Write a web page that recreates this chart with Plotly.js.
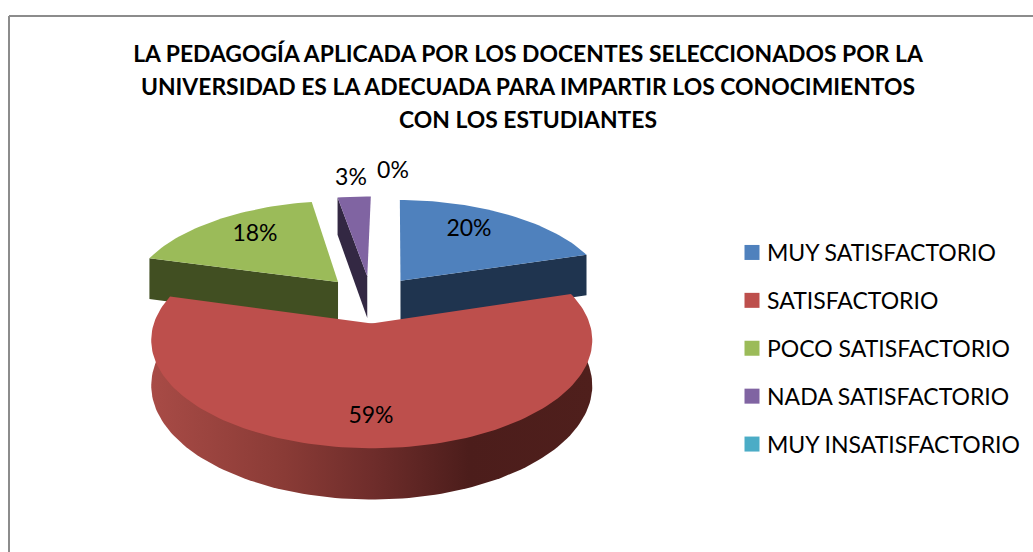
<!DOCTYPE html>
<html><head><meta charset="utf-8">
<script src="https://cdn.plot.ly/plotly-3.0.1.min.js"></script>
<style>html,body{margin:0;padding:0;background:#fff}#c{width:1033px;height:552px}</style>
</head><body><div id="c"></div>
<script>
// ---- data ----
const categories = ["MUY SATISFACTORIO","SATISFACTORIO","POCO SATISFACTORIO","NADA SATISFACTORIO","MUY INSATISFACTORIO"];
const values = [20, 59, 18, 3, 0];
const percentLabels = ["20%","59%","18%","3%","0%"];
// ---- styles ----
const topColors = ["#4f81bd","#bd4f4c","#9bbb59","#8064a2","#4bacc6"];
const sideColors = ["#1f344f","#7a3230","#414f22","#332843","#1f4a55"];
const font = "Lato, 'Open Sans', sans-serif";
// ---- projection of the tilted exploded disc ----
const cx=371, cy=299, Rx=210, Ry=98, persp=0.15, explode=0.24, rot=1, depth=43;
const rad=d=>d*Math.PI/180;
function proj(X,Y,down){
  const s=1/(1+persp*Y);
  return [cx+Rx*X*s, cy-Ry*Y*s+(down?depth*Math.pow(s,0.85):0)];
}
function slice(i){
  const total=values.reduce((a,b)=>a+b,0);
  const before=values.slice(0,i).reduce((a,b)=>a+b,0);
  const a0=rot+before/total*360, a1=a0+values[i]/total*360, mid=(a0+a1)/2;
  const ox=explode*Math.sin(rad(mid)), oy=explode*Math.cos(rad(mid));
  const rim=(a)=>[ox+Math.sin(rad(a)),oy+Math.cos(rad(a))];
  return {a0,a1,mid,ox,oy,rim};
}
function arc(sl,down){
  const pts=[],n=Math.max(2,Math.ceil((sl.a1-sl.a0)/1.5));
  for(let k=0;k<=n;k++){const r=sl.rim(sl.a0+(sl.a1-sl.a0)*k/n);pts.push(proj(r[0],r[1],down));}
  return pts;
}
function poly(pts,extra){
  return Object.assign({type:"scatter",mode:"lines",x:pts.map(p=>p[0]).concat(pts[0][0]),y:pts.map(p=>p[1]).concat(pts[0][1]),
    fill:"toself",line:{width:0},hoverinfo:"skip",showlegend:false},extra);
}
const traces=[];
function apex(sl,down){return proj(sl.ox,sl.oy,down);}
function cutFace(i,ang){
  const sl=slice(i), r=sl.rim(ang);
  return poly([apex(sl,false),proj(r[0],r[1],false),proj(r[0],r[1],true),apex(sl,true)],{fillcolor:sideColors[i]});
}
traces.push(cutFace(0,slice(0).a1));
traces.push(cutFace(2,slice(2).a0));
traces.push(cutFace(3,slice(3).a0));
[0,2,3].forEach(i=>{const sl=slice(i);traces.push(poly([apex(sl,false)].concat(arc(sl,false)),{fillcolor:topColors[i]}));});
// front slice: red rim + top
const red=slice(1);
traces.push(poly([apex(red,false)].concat(arc(red,true)),{fillcolor:"#7a3230",fillgradient:{type:"horizontal",colorscale:[[0,"#a84b46"],[0.3,"#8a3b36"],[0.5,"#6f2d2b"],[0.72,"#4c1d1b"],[1,"#4f1f1c"]]}}));
traces.push(poly([apex(red,false)].concat(arc(red,false)),{fillcolor:topColors[1]}));
// data labels
traces.push({type:"scatter",mode:"text",x:[469,371,255,351,393],y:[230,417,235,179,172],text:percentLabels,
  textposition:"middle center",textfont:{family:font,size:23,color:"#000"},hoverinfo:"skip",showlegend:false});
// legend entries
categories.forEach((c,i)=>traces.push({type:"scatter",mode:"markers",x:[null],y:[null],name:c,legendgroup:c,
  marker:{symbol:"square",size:15,color:topColors[i]},hoverinfo:"skip"}));

const titleLines=["LA PEDAGOGÍA APLICADA POR LOS DOCENTES SELECCIONADOS POR LA","UNIVERSIDAD ES LA ADECUADA PARA IMPARTIR LOS CONOCIMIENTOS","CON LOS ESTUDIANTES"];
const layout={
  width:1033,height:552,paper_bgcolor:"#fff",plot_bgcolor:"#fff",
  margin:{l:0,r:0,t:0,b:0},
  title:{text:titleLines.map(t=>'<span style="font-size:22.9px">'+t+'</span>').join("<br>"),
    font:{family:font,size:25.4,color:"#000",weight:"bold"},x:528/1033,xanchor:"center",y:1-62/552,yanchor:"top"},
  xaxis:{range:[0,1033],visible:false,fixedrange:true},
  yaxis:{range:[552,0],visible:false,fixedrange:true},
  showlegend:true,
  legend:{x:732/1033,y:1-231/552,xanchor:"left",yanchor:"top",font:{family:font,size:23,color:"#000"},
    tracegroupgap:15,bgcolor:"rgba(0,0,0,0)",itemclick:false,itemdoubleclick:false},
  shapes:[
    {type:"line",xref:"paper",yref:"paper",x0:9/1033,x1:1,y0:1-16/552,y1:1-16/552,line:{color:"#8c8c8c",width:2}},
    {type:"line",xref:"paper",yref:"paper",x0:9/1033,x1:9/1033,y0:1-16/552,y1:0,line:{color:"#8c8c8c",width:2}}
  ]
};
Plotly.newPlot("c",traces,layout,{displayModeBar:false,staticPlot:true}).then(()=>{
  // tighten the gap between legend swatch and label
  document.querySelectorAll(".legendtext").forEach(t=>{
    t.setAttribute("x",String(parseFloat(t.getAttribute("x"))-5));
  });
});
</script></body></html>
